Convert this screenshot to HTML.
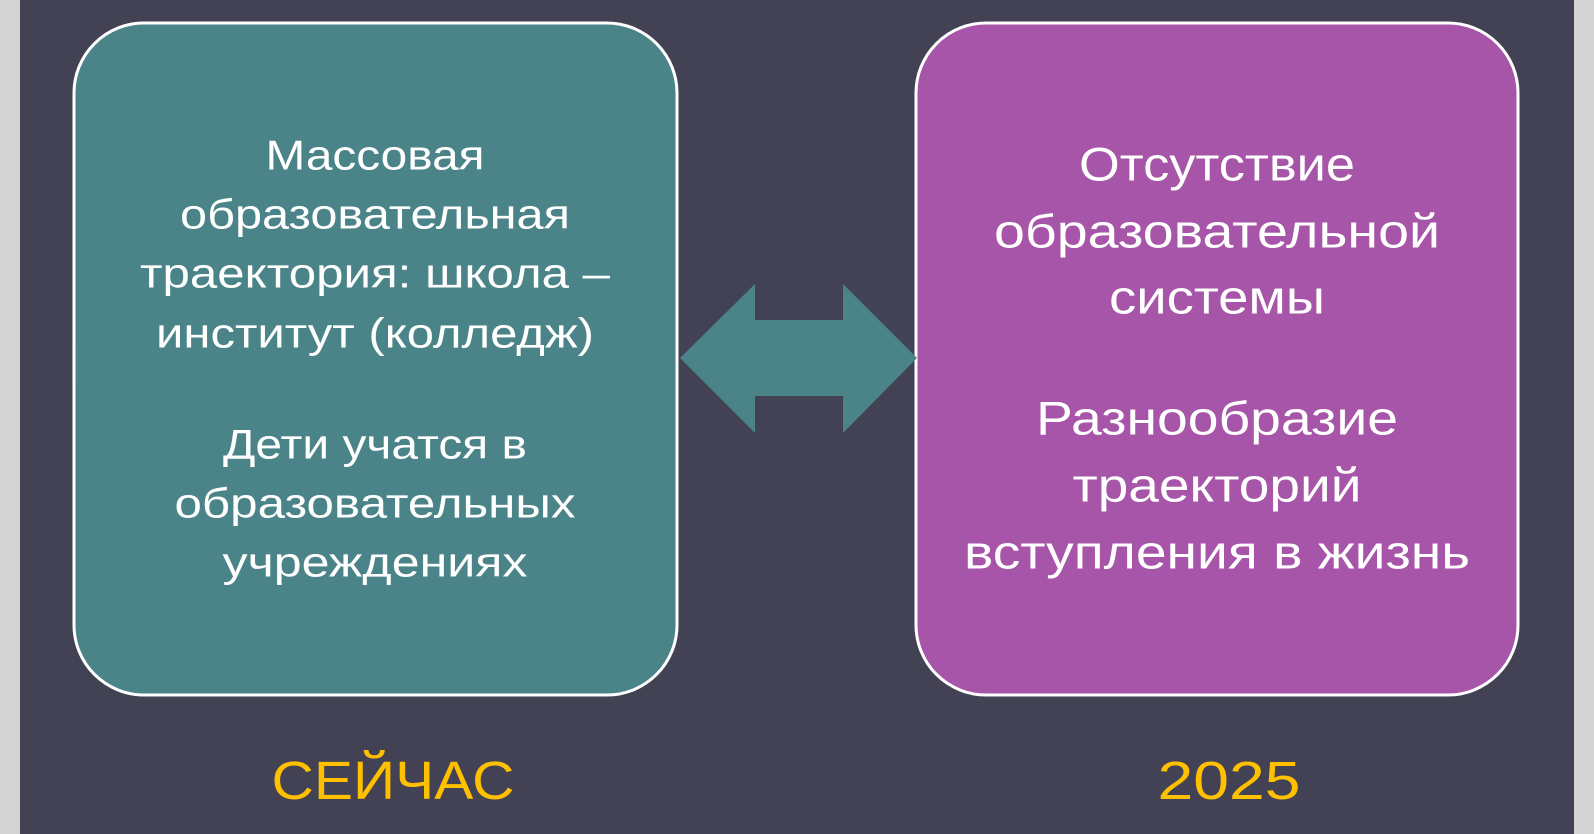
<!DOCTYPE html>
<html><head><meta charset="utf-8"><style>
html,body{margin:0;padding:0;background:#d4d4d4;}
svg{display:block}
</style></head><body>
<svg width="1594" height="834" viewBox="0 0 1594 834" xmlns="http://www.w3.org/2000/svg">
<rect x="0" y="0" width="1594" height="834" fill="#d4d4d4"/>
<rect x="20" y="0" width="1554" height="834" fill="#424254"/>
<rect x="74" y="23" width="603" height="672" rx="70" fill="#4a8488" stroke="#ffffff" stroke-width="3"/>
<rect x="916" y="23" width="602" height="672" rx="70" fill="#a655a8" stroke="#ffffff" stroke-width="3"/>
<polygon points="680,358 755,284 755,320 843,320 843,284 917,358 843,433 843,396 755,396 755,433" fill="#4a8488"/>
<g font-family="Liberation Sans, DejaVu Sans, sans-serif" fill="#ffffff" text-anchor="middle" dominant-baseline="central">
<g font-size="42">
<text x="375" y="155" textLength="219" lengthAdjust="spacingAndGlyphs">Массовая</text>
<text x="375" y="214" textLength="390" lengthAdjust="spacingAndGlyphs">образовательная</text>
<text x="375" y="273" textLength="470" lengthAdjust="spacingAndGlyphs">траектория: школа –</text>
<text x="375" y="333" textLength="438" lengthAdjust="spacingAndGlyphs">институт (колледж)</text>
<text x="375" y="444" textLength="304" lengthAdjust="spacingAndGlyphs">Дети учатся в</text>
<text x="375" y="503" textLength="401" lengthAdjust="spacingAndGlyphs">образовательных</text>
<text x="375" y="562" textLength="305" lengthAdjust="spacingAndGlyphs">учреждениях</text>
</g>
<g font-size="47">
<text x="1217" y="164" textLength="276" lengthAdjust="spacingAndGlyphs">Отсутствие</text>
<text x="1217" y="231" textLength="446" lengthAdjust="spacingAndGlyphs">образовательной</text>
<text x="1217" y="297" textLength="216" lengthAdjust="spacingAndGlyphs">системы</text>
<text x="1217" y="418" textLength="362" lengthAdjust="spacingAndGlyphs">Разнообразие</text>
<text x="1217" y="485" textLength="289" lengthAdjust="spacingAndGlyphs">траекторий</text>
<text x="1217" y="552" textLength="506" lengthAdjust="spacingAndGlyphs">вступления в жизнь</text>
</g>
<g font-size="54" fill="#ffc000">
<text x="393" y="781" textLength="243" lengthAdjust="spacingAndGlyphs">СЕЙЧАС</text>
<text x="1229" y="781" textLength="143" lengthAdjust="spacingAndGlyphs">2025</text>
</g>
</g>
</svg>
</body></html>
